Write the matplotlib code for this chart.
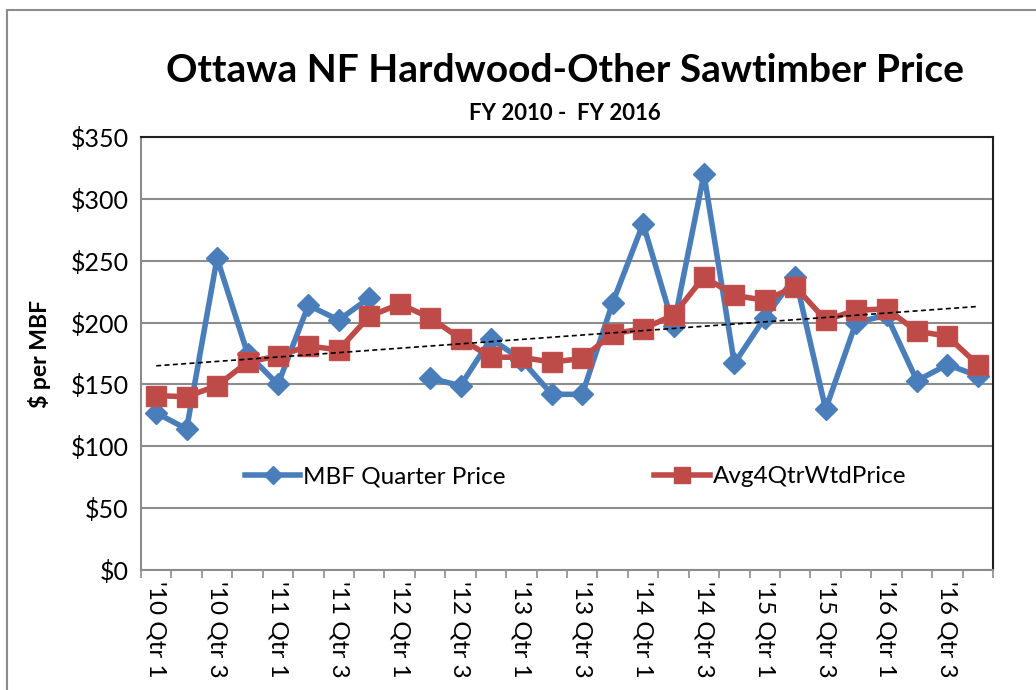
import numpy as np
import matplotlib.pyplot as plt
from matplotlib.lines import Line2D
from matplotlib.patches import Rectangle

# quarters FY2010 Q1 .. FY2016 Q4
years = ['10', '11', '12', '13', '14', '15', '16']
quarters = ["'%s Qtr %d" % (y, q) for y in years for q in range(1, 5)]

# MBF quarter price ($/MBF), None = no sale that quarter
mbf_price = [127, 114, 252, 175, 150, 214, 202, 220,
             None, 155, 149, 187, 170, 142, 142, 216,
             280, 197, 320, 167, 204, 237, 130, 200,
             206, 153, 166, 157]
# 4-quarter weighted average price
avg_price = [141, 140, 149, 168, 173, 181, 178, 205,
             215, 204, 187, 172, 172, 168, 171, 191,
             195, 206, 237, 222, 218, 229, 202, 210,
             211, 193, 189, 166]

yticks = [0, 50, 100, 150, 200, 250, 300, 350]

blue = '#4a7ebb'
red = '#be4b48'
plt.rcParams['font.family'] = ['Lato', 'DejaVu Sans']

fig = plt.figure(figsize=(10.36, 6.9), dpi=100)
ax = fig.add_axes([141 / 1036, 1 - 570 / 690, 852 / 1036, 433 / 690])

x = np.arange(len(quarters))
blue_y = np.array([np.nan if v is None else v for v in mbf_price], dtype=float)

ax.plot(x, blue_y, color=blue, lw=4, marker='D', ms=11, zorder=3)
ax.plot(x, avg_price, color=red, lw=4, marker='s', ms=15,
        markerfacecolor=red, markeredgecolor='#c0504d', zorder=4)

# linear trendline
k, b = np.polyfit(x, avg_price, 1)
ax.plot(x, k * x + b, color='black', lw=1.2, ls=(0, (3, 2)), zorder=5)

ax.set_xlim(-0.5, len(quarters) - 0.5)
ax.set_ylim(0, 350)
ax.set_yticks(yticks)
ax.set_yticklabels(['$%d' % v for v in yticks], fontsize=18)
ax.yaxis.grid(True, color='#8c8c8c', lw=1.5)
ax.set_axisbelow(True)
ax.tick_params(axis='y', length=0, pad=9)

ax.set_xticks(x[::2])
ax.set_xticklabels(quarters[::2], rotation=270, fontsize=17.5, va='top', ha='center')
ax.set_xticks(np.arange(-0.5, len(quarters), 1), minor=True)
ax.tick_params(axis='x', which='major', length=0, pad=8)
ax.tick_params(axis='x', which='minor', length=6, color='#8c8c8c', width=1.2)

for s in ['left', 'bottom']:
    ax.spines[s].set_color('#8c8c8c')
    ax.spines[s].set_linewidth(1.5)
for s in ['top', 'right']:
    ax.spines[s].set_color('#202020')
    ax.spines[s].set_linewidth(1.5)

ax.set_ylabel('$ per MBF', fontsize=16.5, fontweight='bold', labelpad=14)

handles = [Line2D([], [], color=blue, lw=4, marker='D', ms=9),
           Line2D([], [], color=red, lw=4, marker='s', ms=11)]
ax.legend(handles, ['MBF Quarter Price', 'Avg4QtrWtdPrice'], loc='center',
          bbox_to_anchor=(0.51, 0.215), ncol=2, frameon=False, fontsize=17.5,
          handlelength=2.3, handletextpad=0.12, columnspacing=6.1)

fig.text(0.545, 1 - 70 / 690, 'Ottawa NF Hardwood-Other Sawtimber Price',
         ha='center', va='center', fontsize=28, fontweight='bold')
fig.text(0.545, 1 - 113 / 690, 'FY 2010 -  FY 2016',
         ha='center', va='center', fontsize=16, fontweight='bold')

# outer chart frame
fig.patches.append(Rectangle((7 / 1036, -0.1), 1.1, 1 - 10 / 690 + 0.1,
                             transform=fig.transFigure, fill=False,
                             edgecolor='#8c8c8c', lw=1.5))

fig.savefig('out.png', dpi=100)
